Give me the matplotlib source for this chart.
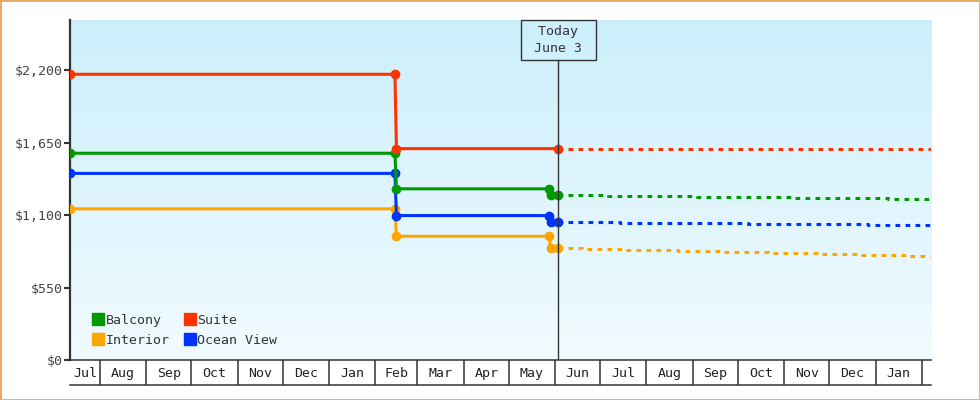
import numpy as np
import matplotlib
matplotlib.use("Agg")
import matplotlib.pyplot as plt
import matplotlib.dates as mdates
from matplotlib.lines import Line2D
from matplotlib.patches import Rectangle

# price history (solid) and forecast (dashed)
start_date = "2022-07-12"
end_date = "2024-02-07"
today = "2023-06-03"

suite_dates = ["2022-07-12", "2023-02-14", "2023-02-15", "2023-06-03"]
suite_prices = [2168, 2168, 1604, 1604]
suite_future_dates = ["2023-06-03", "2024-02-07"]
suite_future_prices = [1604, 1604]

past_dates = ["2022-07-12", "2023-02-14", "2023-02-15", "2023-05-28", "2023-05-29", "2023-06-03"]
balcony_prices = [1569, 1569, 1299, 1299, 1254, 1254]
ocean_prices = [1416, 1416, 1096, 1096, 1049, 1049]
interior_prices = [1147, 1147, 939, 939, 849, 849]

balcony_future_dates = ["2023-06-03", "2023-07-06", "2023-09-04", "2023-11-06", "2024-01-09", "2024-02-07"]
balcony_future_prices = [1254, 1247, 1239, 1231, 1224, 1224]
ocean_future_dates = ["2023-06-03", "2023-07-14", "2023-10-08", "2023-12-27", "2024-02-07"]
ocean_future_prices = [1049, 1041, 1033, 1026, 1026]
interior_future_dates = ["2023-06-03", "2023-06-19", "2023-07-19", "2023-08-22", "2023-09-20",
                         "2023-10-21", "2023-11-23", "2023-12-23", "2024-01-23", "2024-02-07"]
interior_future_prices = [849, 841, 834, 826, 818, 811, 803, 796, 788, 788]

y_ticks = [0, 550, 1100, 1650, 2200]
y_max = 2580

GREEN = "#009900"
RED = "#FF3300"
BLUE = "#0033FF"
ORANGE = "#FFA500"
FONT = "DejaVu Sans Mono"

plt.rcParams["font.family"] = FONT
plt.rcParams["lines.scale_dashes"] = False


def d(lst):
    return np.array(lst, dtype="datetime64[D]")


fig = plt.figure(figsize=(9.8, 4), dpi=100)
ax = fig.add_axes([70 / 980, 40 / 400, 861 / 980, 340 / 400])

# gradient background
top = np.array([0.80, 0.937, 0.988])
bot = np.array([0.945, 0.984, 1.0])
t = np.linspace(0, 1, 256).reshape(-1, 1, 1)
grad = top * (1 - t) + bot * t
ax.imshow(grad, extent=(0, 1, 0, 1), transform=ax.transAxes, aspect="auto",
          origin="upper", zorder=0)

series = [
    ("Interior", ORANGE, interior_prices, interior_future_dates, interior_future_prices, past_dates),
    ("Ocean View", BLUE, ocean_prices, ocean_future_dates, ocean_future_prices, past_dates),
    ("Balcony", GREEN, balcony_prices, balcony_future_dates, balcony_future_prices, past_dates),
    ("Suite", RED, suite_prices, suite_future_dates, suite_future_prices, suite_dates),
]

z = 3
for name, col, prices, fdates, fprices, pdates in series:
    ax.plot(d(fdates), fprices, color=col, lw=2.2, drawstyle="steps-post",
            dashes=(3.4, 3.8), dash_capstyle="butt", zorder=z)
    ax.plot(d(pdates), prices, color=col, lw=2.2, marker="o", ms=6,
            solid_capstyle="butt", zorder=z + 0.5)
    z += 1

ax.set_xlim(d([start_date])[0], d([end_date])[0])
ax.set_ylim(0, y_max)

# today marker
ax.axvline(d([today])[0], ymin=0, ymax=300 / 340, color="#333333", lw=1, zorder=10)
ax.text(d([today])[0], 320 / 340, " Today \n June 3 ", transform=ax.get_xaxis_transform(),
        ha="center", va="center", fontsize=9.5, color="#333333", linespacing=1.35,
        bbox=dict(boxstyle="square,pad=0.42", fc="none", ec="#333333", lw=1), zorder=11)

# y axis
ax.set_yticks(y_ticks)
ax.set_yticklabels(["${:,}".format(v) for v in y_ticks])
ax.tick_params(axis="y", length=4, width=1.5, color="#333333", pad=1.5,
               labelsize=9.5, labelcolor="#444444")

# x axis: month boxes
month_starts = np.arange(np.datetime64("2022-08", "M"), np.datetime64("2024-03", "M"))
bounds = month_starts.astype("datetime64[D]")
ax.set_xticks(bounds)
ax.set_xticklabels([])
ax.tick_params(axis="x", which="major", length=18, width=1.1, color="#333333", direction="out")

lo = d([start_date])[0]
hi = d([end_date])[0]
edges = np.concatenate([[lo], bounds[bounds < hi], [hi]])
centers, names = [], []
for a, b in zip(edges[:-1], edges[1:]):
    if (b - a).astype(int) > 12:
        centers.append(mdates.date2num(a) + (b - a).astype(int) / 2)
        names.append(a.astype(object).strftime("%b"))
ax.set_xticks(centers, minor=True)
ax.set_xticklabels(names, minor=True)
ax.tick_params(axis="x", which="minor", length=0, pad=5, labelsize=9.5, labelcolor="#222222")

ax.add_line(Line2D([0, 1], [-25 / 340, -25 / 340], transform=ax.transAxes,
                   color="#333333", lw=1.1, clip_on=False))

for s in ["top", "right"]:
    ax.spines[s].set_visible(False)
ax.spines["left"].set_linewidth(1.6)
ax.spines["left"].set_color("#333333")
ax.spines["bottom"].set_linewidth(1.1)
ax.spines["bottom"].set_color("#333333")

# legend
handles = [Line2D([], [], ls="none", marker="s", ms=8, color=c, mec=c)
           for c in [GREEN, ORANGE, RED, BLUE]]
ax.legend(handles, ["Balcony", "Interior", "Suite", "Ocean View"], ncol=2,
          loc="lower left", bbox_to_anchor=(0.0185, 0.02), frameon=False,
          fontsize=9.5, handlelength=0.8, handletextpad=0.2, columnspacing=1.1,
          labelspacing=0.53, borderpad=0, labelcolor="#333333")

fig.patches.append(Rectangle((0, 0), 1, 1, transform=fig.transFigure, fill=False,
                             edgecolor="#E9A864", lw=2))

fig.savefig("out.png", dpi=100)
